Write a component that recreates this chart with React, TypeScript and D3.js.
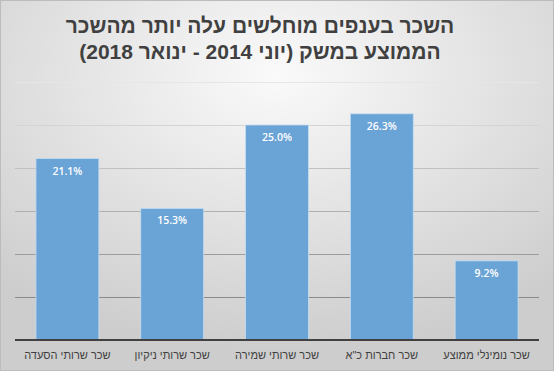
import React, { useEffect, useRef } from 'react';
import * as d3 from 'd3';

// categories, left to right as shown
const categories = ['שכר שרותי הסעדה', 'שכר שרותי ניקיון', 'שכר שרותי שמירה', 'שכר חברות כ"א', 'שכר נומינלי ממוצע'];
const values = [21.1, 15.3, 25.0, 26.3, 9.2];
const yTicks = [0, 5, 10, 15, 20, 25, 30];
const titleLines = ['השכר בענפים מוחלשים עלה יותר מהשכר', 'הממוצע במשק (יוני 2014 - ינואר 2018)'];

export default function App() {
  const ref = useRef<SVGSVGElement>(null);

  useEffect(() => {
    const W = 554, H = 371;
    const margin = { top: 82, right: 15, bottom: 31, left: 15 };
    const svg = d3.select(ref.current);
    svg.selectAll('*').remove();

    const defs = svg.append('defs');
    const grad = defs.append('radialGradient').attr('id', 'bg')
      .attr('cx', '50%').attr('cy', '20%').attr('r', '75%')
      .attr('gradientUnits', 'objectBoundingBox');
    grad.append('stop').attr('offset', '0%').attr('stop-color', '#fafafa');
    grad.append('stop').attr('offset', '100%').attr('stop-color', '#cdcdcd');

    svg.append('rect').attr('x', 0.5).attr('y', 0.5).attr('width', W - 1).attr('height', H - 1)
      .attr('fill', 'url(#bg)').attr('stroke', '#bcbcbc');

    // title
    svg.append('text')
      .attr('x', 260).attr('y', 33)
      .attr('text-anchor', 'middle')
      .style('font-family', '"Liberation Sans", Arial, sans-serif')
      .style('font-weight', 'bold').style('font-size', '21px').attr('fill', '#404040')
      .selectAll('tspan').data(titleLines).join('tspan')
      .attr('x', 260).attr('dy', (d, i) => i === 0 ? 0 : 26)
      .attr('direction', 'rtl').attr('unicode-bidi', 'plaintext')
      .text(d => d);

    const w = W - margin.left - margin.right;
    const h = H - margin.top - margin.bottom;
    const g = svg.append('g').attr('transform', `translate(${margin.left}, ${margin.top})`);

    const x = d3.scaleBand().domain(categories).range([0, w]).paddingInner(0.4).paddingOuter(0.2);
    const y = d3.scaleLinear().domain([0, 30]).range([h, 0]);
    const gridColor = d3.scaleLinear<string>().domain([30, 5]).range(['#e6e6e6', '#8a8a8a']);

    // gridlines
    g.selectAll('.grid').data(yTicks.filter(t => t > 0)).join('line')
      .attr('class', 'grid')
      .attr('x1', 0).attr('x2', w)
      .attr('y1', d => Math.round(y(d)) + 0.5).attr('y2', d => Math.round(y(d)) + 0.5)
      .attr('stroke', d => gridColor(d)).attr('stroke-width', 1);

    // bars
    g.selectAll('.bar').data(values).join('rect')
      .attr('class', 'bar')
      .attr('x', (d, i) => x(categories[i])!)
      .attr('y', d => y(d))
      .attr('width', x.bandwidth())
      .attr('height', d => h - y(d))
      .attr('fill', '#6aa3d6')
      .attr('stroke', '#c5dcf0').attr('stroke-width', 0.8);

    // data labels
    g.selectAll('.lbl').data(values).join('text')
      .attr('class', 'lbl')
      .attr('x', (d, i) => x(categories[i])! + x.bandwidth() / 2)
      .attr('y', d => y(d) + 16)
      .attr('text-anchor', 'middle')
      .style('font-family', '"Open Sans", "Liberation Sans", sans-serif')
      .style('font-size', '10.5px').style('font-weight', '600')
      .attr('fill', '#ffffff')
      .text(d => d.toFixed(1) + '%');

    // baseline axis
    g.append('line').attr('x1', 0).attr('x2', w).attr('y1', h).attr('y2', h)
      .attr('stroke', '#404040').attr('stroke-width', 2);

    // category labels
    g.selectAll('.cat').data(categories).join('text')
      .attr('class', 'cat')
      .attr('x', d => x(d)! + x.bandwidth() / 2)
      .attr('y', h + 19)
      .attr('text-anchor', 'middle')
      .attr('direction', 'rtl')
      .style('font-family', '"Liberation Sans", Arial, sans-serif')
      .style('font-size', '11px').attr('fill', '#404040')
      .text(d => d);
  }, []);

  return (
    <svg ref={ref} width={554} height={371} style={{ position: 'absolute', left: 0, top: 0 }} />
  );
}
